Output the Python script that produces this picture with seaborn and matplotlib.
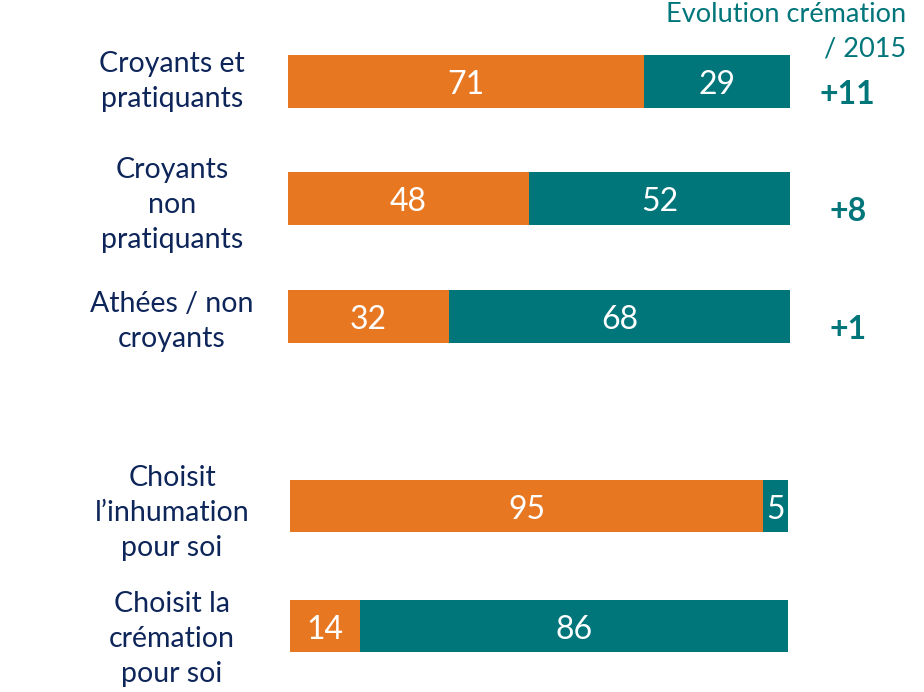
import matplotlib
matplotlib.use('Agg')
import matplotlib.pyplot as plt
import matplotlib.transforms as mtransforms
import seaborn as sns

# data
labels_top = ['Croyants et\npratiquants', 'Croyants\nnon\npratiquants', 'Athées / non\ncroyants']
orange_top = [71, 48, 32]
teal_top = [29, 52, 68]
evolution = ['+11', '+8', '+1']

labels_bottom = ['Choisit\nl’inhumation\npour soi', 'Choisit la\ncrémation\npour soi']
orange_bottom = [95, 14]
teal_bottom = [5, 86]

header = 'Evolution crémation\n/ 2015'

ORANGE = '#E87722'
TEAL = '#00757A'
NAVY = '#0D2559'

sns.set_theme(style='white')
plt.rcParams['font.family'] = ['Lato', 'DejaVu Sans']

fig = plt.figure(figsize=(9.24, 6.92), dpi=100)
W, H = 924, 692
LABEL_X = 172  # pixel column where category labels are centred


def draw_block(ax, left_px, width_px, labels, orange, teal, width, nudges):
    totals = [o + t for o, t in zip(orange, teal)]
    sns.barplot(x=totals, y=labels, color=TEAL, orient='h', width=width,
                saturation=1, linewidth=0, ax=ax)
    sns.barplot(x=orange, y=labels, color=ORANGE, orient='h', width=width,
                saturation=1, linewidth=0, ax=ax)
    ax.set_xlim(0, 100)
    ax.set_ylim(len(labels) - 0.5, -0.5)
    ax.set_xticks([])
    ax.set_yticks([])
    ax.set_xlabel('')
    ax.set_ylabel('')
    sns.despine(ax=ax, left=True, bottom=True)
    # category labels, centred left of the bars (nudge in pixels, downwards)
    lx = (LABEL_X - left_px) / width_px
    for i, (lab, dy) in enumerate(zip(labels, nudges)):
        tr = ax.get_yaxis_transform() + mtransforms.ScaledTranslation(0, -dy / 100, fig.dpi_scale_trans)
        ax.text(lx, i, lab, transform=tr, ha='center', va='center', color=NAVY,
                fontsize=20.5, linespacing=1.42, clip_on=False)
    for i, (o, t) in enumerate(zip(orange, teal)):
        ax.text(o / 2, i + 0.03, str(o), ha='center', va='center', color='white', fontsize=23)
        ax.text(o + t / 2, i + 0.03, str(t), ha='center', va='center', color='white', fontsize=23)


# top block: bars between x=288 and 790 px, rows centred at 81/198/316 px
ax1 = fig.add_axes([288 / W, (H - 375) / H, 502 / W, 352.5 / H])
draw_block(ax1, 288, 502, labels_top, orange_top, teal_top, 0.45, [0, 6, 5])
for i, ev in enumerate(evolution):
    ax1.text(111.5, i + 0.11, ev, ha='center', va='center', color=TEAL,
             fontsize=23, fontweight='bold', clip_on=False)

# bottom block
ax2 = fig.add_axes([290 / W, (H - 686) / H, 498 / W, 240 / H])
draw_block(ax2, 290, 498, labels_bottom, orange_bottom, teal_bottom, 0.44, [7, 13])

fig.text(906 / W, 1 - 2 / H, header, ha='right', va='top', color=TEAL,
         fontsize=19.5, linespacing=1.45)

fig.savefig('out.png', dpi=100)
